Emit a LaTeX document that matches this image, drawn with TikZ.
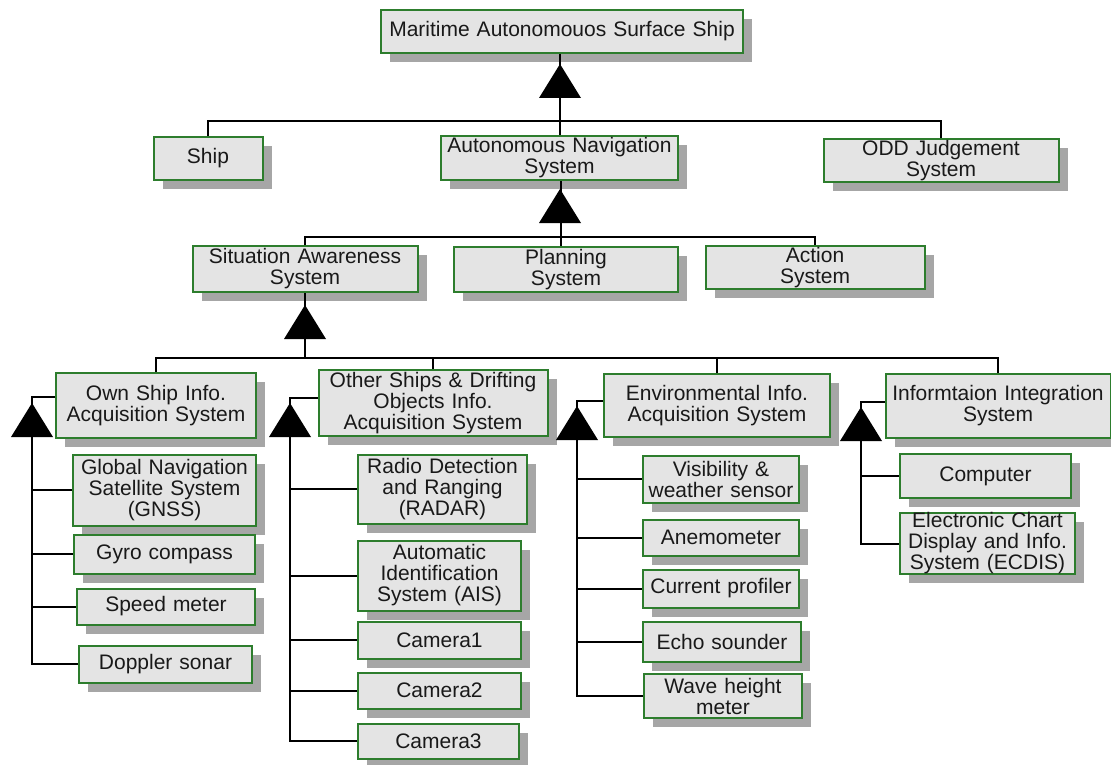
\documentclass[tikz,border=0pt]{standalone}
\usepackage{fontspec}
\setmainfont{Liberation Sans}
\usetikzlibrary{shadows}
\definecolor{boxfill}{RGB}{228,228,228}
\definecolor{boxgreen}{RGB}{45,125,45}
\definecolor{shadowgray}{RGB}{166,166,166}
\definecolor{textcol}{RGB}{25,25,25}
\newcommand{\mytri}[2]{\fill[black] (#1,#2) -- ++(21,34) -- ++(-42,0) -- cycle;}
\tikzset{
  box/.style={draw=boxgreen, line width=2pt, fill=boxfill, text=textcol,
    font=\fontsize{21}{21}\selectfont, align=center, inner sep=0pt,
    drop shadow={shadow xshift=9pt, shadow yshift=-9pt, fill=shadowgray, opacity=1, draw=none}},
  conn/.style={draw=black, line width=2pt}
}
\begin{document}
\begin{tikzpicture}[x=1pt,y=-1pt]
\fill[white] (0,0) rectangle (1111,765);
\useasboundingbox (0,0) rectangle (1111,765);

% level 1
\node[box, text width=362pt, minimum height=43pt] (top) at (562,31.5) {Maritime Autonomouos Surface Ship};
% level 2
\node[box, text width=109pt, minimum height=43pt] (ship) at (208,158.5) {Ship};
\node[box, text width=237pt, minimum height=44pt] (ans) at (559.5,158) {Autonomous Navigation\\System};
\node[box, text width=235pt, minimum height=43pt] (odd) at (941,160.5) {ODD Judgement\\System};
% level 3
\node[box, text width=225pt, minimum height=46pt] (sas) at (305,269) {Situation Awareness\\System};
\node[box, text width=224pt, minimum height=45pt] (plan) at (566,269.5) {Planning\\System};
\node[box, text width=219pt, minimum height=43pt] (act) at (815,267.5) {Action\\System};
% level 4
\node[box, text width=200pt, minimum height=65pt] (own) at (156,405.5) {Own Ship Info.\\Acquisition System};
\node[box, text width=229pt, minimum height=66pt] (oth) at (433,403) {Other Ships \& Drifting\\Objects Info.\\Acquisition System};
\node[box, text width=226pt, minimum height=63pt] (env) at (717,405.5) {Environmental Info.\\Acquisition System};
\node[box, text width=225pt, minimum height=64pt] (inf) at (998,406) {Informtaion Integration\\System};
% own ship children
\node[box, text width=183pt, minimum height=71pt] (gnss) at (164.5,490) {Global Navigation\\Satellite System\\(GNSS)};
\node[box, text width=181pt, minimum height=39pt] (gyro) at (164.5,554) {Gyro compass};
\node[box, text width=178pt, minimum height=36pt] (speed) at (166,606.5) {Speed meter};
\node[box, text width=173pt, minimum height=37pt] (doppler) at (165.5,664) {Doppler sonar};
% other ships children
\node[box, text width=169pt, minimum height=69pt] (radar) at (442.5,489) {Radio Detection\\and Ranging\\(RADAR)};
\node[box, text width=163pt, minimum height=70pt] (ais) at (439.5,575.5) {Automatic\\Identification\\System (AIS)};
\node[box, text width=163pt, minimum height=37pt] (cam1) at (439.5,640) {Camera1};
\node[box, text width=163pt, minimum height=36pt] (cam2) at (439.5,690.5) {Camera2};
\node[box, text width=161pt, minimum height=35pt] (cam3) at (438.5,741) {Camera3};
% environmental children
\node[box, text width=156pt, minimum height=47pt] (vis) at (721,479) {Visibility \&\\weather sensor};
\node[box, text width=156pt, minimum height=36pt] (anem) at (721,537.5) {Anemometer};
\node[box, text width=156pt, minimum height=38pt] (curr) at (721,588.5) {Current profiler};
\node[box, text width=158pt, minimum height=40pt] (echo) at (722,641.5) {Echo sounder};
\node[box, text width=158pt, minimum height=44pt] (wave) at (723,696) {Wave height\\meter};
% integration children
\node[box, text width=171pt, minimum height=44pt] (comp) at (985.5,476) {Computer};
\node[box, text width=175pt, minimum height=57pt] (ecdis) at (987.5,543.5) {Electronic Chart\\Display and Info.\\System (ECDIS)};

% level 1 -> 2
\coordinate (b1) at (560,121);
\draw[conn] (top.south -| b1) -- (b1);
\mytri{560}{64}
\draw[conn] (ship.north) -- (ship.north |- b1) -- (odd.north |- b1) -- (odd.north);
\draw[conn] (b1) -- (ans.north -| b1);

% level 2 -> 3
\coordinate (b2) at (561,237);
\draw[conn] (ans.south -| b2) -- (b2);
\mytri{560}{189}
\draw[conn] (sas.north) -- (sas.north |- b2) -- (act.north |- b2) -- (act.north);
\draw[conn] (b2) -- (plan.north -| b2);

% level 3 -> 4
\coordinate (b3) at (305,358);
\draw[conn] (sas.south -| b3) -- (b3);
\mytri{305}{305}
\draw[conn] (own.north) -- (own.north |- b3) -- (inf.north |- b3) -- (inf.north);
\draw[conn] (oth.north) -- (oth.north |- b3);
\draw[conn] (env.north) -- (env.north |- b3);

% own ship branch
\coordinate (c1) at (32,397);
\draw[conn] (own.west |- c1) -- (c1) -- (c1 |- doppler.west) -- (doppler.west);
\mytri{32}{403}
\foreach \n in {gnss,gyro,speed} \draw[conn] (c1 |- \n.west) -- (\n.west);

% other ships branch
\coordinate (c2) at (290,398);
\draw[conn] (oth.west |- c2) -- (c2) -- (c2 |- cam3.west) -- (cam3.west);
\mytri{290}{403}
\foreach \n in {radar,ais,cam1,cam2} \draw[conn] (c2 |- \n.west) -- (\n.west);

% environmental branch
\coordinate (c3) at (577,401);
\draw[conn] (env.west |- c3) -- (c3) -- (c3 |- wave.west) -- (wave.west);
\mytri{577}{406}
\foreach \n in {vis,anem,curr,echo} \draw[conn] (c3 |- \n.west) -- (\n.west);

% integration branch
\coordinate (c4) at (861,402);
\draw[conn] (inf.west |- c4) -- (c4) -- (c4 |- ecdis.west) -- (ecdis.west);
\mytri{861}{407}
\draw[conn] (c4 |- comp.west) -- (comp.west);
\end{tikzpicture}
\end{document}
